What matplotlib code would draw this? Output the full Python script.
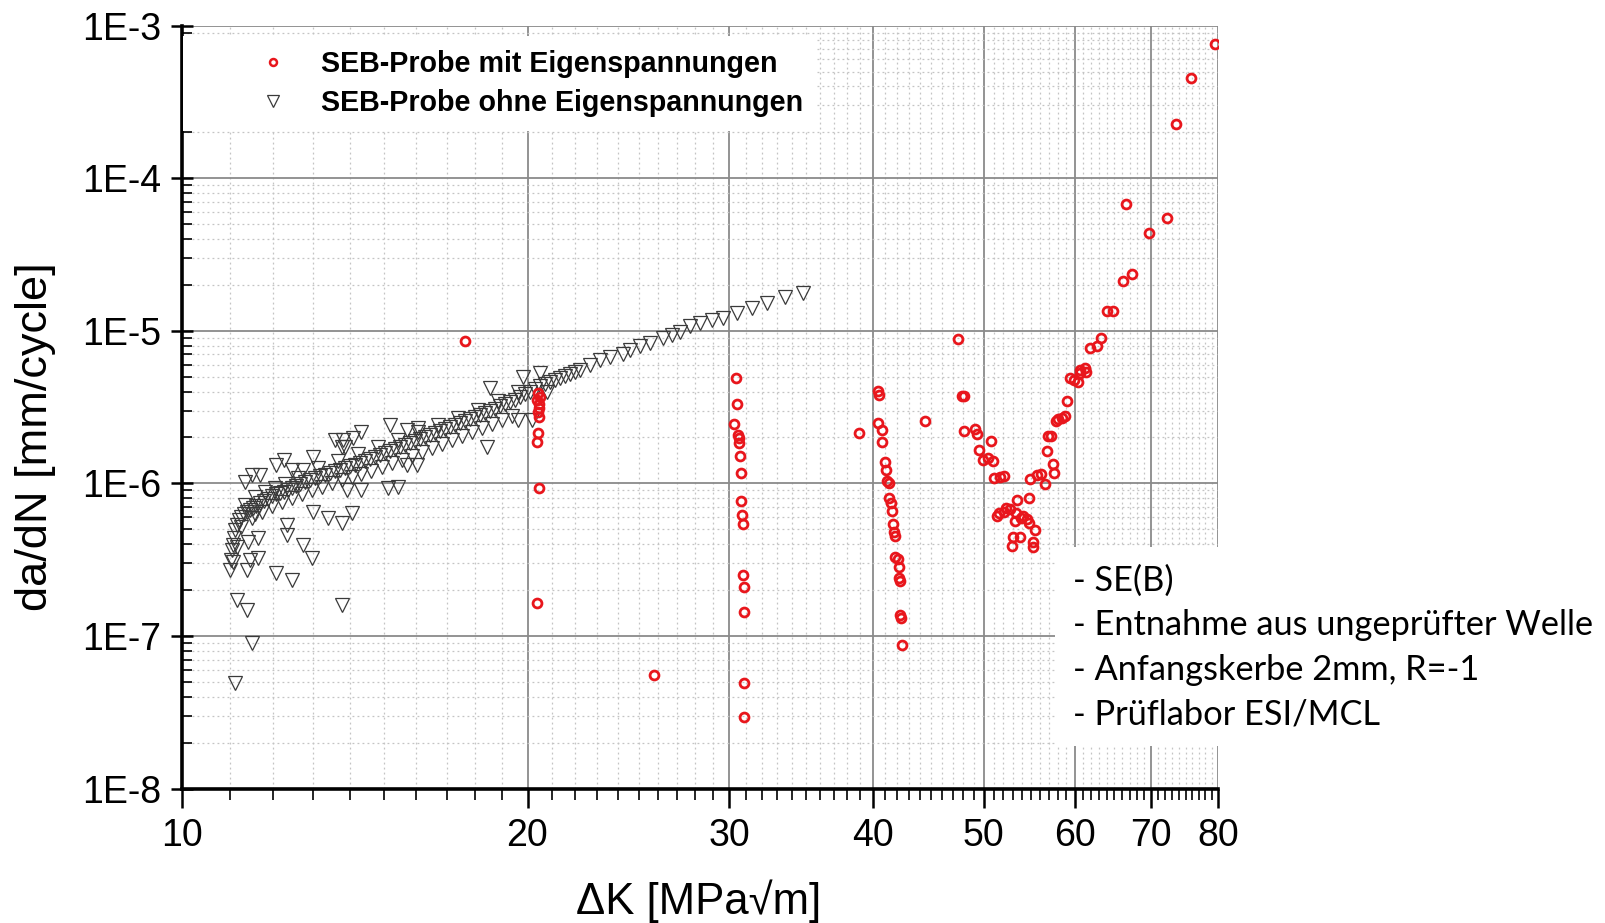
import matplotlib
matplotlib.use("Agg")
import matplotlib.pyplot as plt
from matplotlib.ticker import FixedLocator, NullFormatter, FixedFormatter
from matplotlib.patches import Rectangle
from matplotlib.lines import Line2D
from matplotlib.legend_handler import HandlerLine2D

# ---------------- data (ΔK in MPa√m, da/dN in mm/cycle) ----------------
# SEB-Probe ohne Eigenspannungen: main trend band
grey_band = [
    (11.00, 2.7e-7), (11.03, 3.15e-7), (11.05, 3.66e-7), (11.07, 3.95e-7), (11.09, 4.4e-7),
    (11.11, 4.95e-7), (11.16, 5.35e-7), (11.20, 5.76e-7), (11.25, 6.0e-7), (11.32, 6.3e-7),
    (11.39, 6.5e-7), (11.46, 6.7e-7), (11.52, 6.9e-7), (11.59, 7.1e-7), (11.69, 7.45e-7),
    (11.78, 7.7e-7), (11.88, 7.95e-7), (11.98, 8.25e-7), (12.07, 8.5e-7), (12.17, 8.6e-7),
    (12.27, 8.8e-7), (12.36, 9.06e-7), (12.46, 9.3e-7), (12.56, 9.6e-7), (12.67, 9.9e-7),
    (12.79, 1.02e-6), (12.92, 1.05e-6), (13.05, 1.08e-6), (13.19, 1.12e-6), (13.32, 1.14e-6),
    (13.45, 1.17e-6), (13.59, 1.2e-6), (13.73, 1.22e-6), (13.86, 1.26e-6), (14.00, 1.3e-6),
    (14.15, 1.32e-6), (14.29, 1.36e-6), (14.44, 1.4e-6), (14.58, 1.44e-6), (14.73, 1.49e-6),
    (14.87, 1.53e-6), (15.02, 1.58e-6), (15.17, 1.63e-6), (15.33, 1.68e-6), (15.48, 1.73e-6),
    (15.64, 1.78e-6), (15.79, 1.84e-6), (15.95, 1.9e-6), (16.12, 1.95e-6), (16.28, 2.0e-6),
    (16.44, 2.08e-6), (16.61, 2.15e-6), (16.78, 2.2e-6), (16.95, 2.28e-6), (17.12, 2.35e-6),
    (17.29, 2.42e-6), (17.47, 2.5e-6), (17.64, 2.57e-6), (17.82, 2.65e-6), (18.00, 2.73e-6),
    (18.18, 2.82e-6), (18.36, 2.9e-6), (18.55, 2.98e-6), (18.73, 3.08e-6), (18.92, 3.22e-6),
    (19.12, 3.3e-6), (19.31, 3.42e-6), (19.50, 3.52e-6), (19.70, 3.68e-6), (19.90, 3.85e-6),
    (20.10, 3.97e-6), (20.30, 4.15e-6), (20.51, 4.35e-6), (20.71, 4.5e-6), (20.92, 4.62e-6),
    (21.14, 4.76e-6), (21.35, 4.9e-6), (21.56, 5.05e-6), (21.78, 5.2e-6), (22.00, 5.37e-6),
    (22.23, 5.53e-6), (22.68, 5.97e-6), (23.14, 6.44e-6), (23.60, 6.73e-6), (24.23, 7.05e-6),
    (24.57, 7.48e-6), (25.07, 7.95e-6), (25.58, 8.32e-6), (26.26, 8.97e-6), (26.74, 9.38e-6),
    (27.17, 9.82e-6), (27.72, 1.075e-5), (28.28, 1.125e-5), (28.97, 1.178e-5), (29.62, 1.214e-5),
    (30.46, 1.307e-5), (31.40, 1.41e-5), (32.36, 1.52e-5), (33.55, 1.665e-5), (34.78, 1.77e-5),
]
grey_band_lower = [
    (11.25, 5.19e-7), (11.50, 5.93e-7), (11.74, 6.49e-7), (11.98, 7.1e-7), (12.22, 7.55e-7),
    (12.46, 8.0e-7), (12.72, 8.5e-7), (12.97, 9.06e-7), (13.24, 9.5e-7), (13.51, 1.0e-6),
    (13.78, 1.05e-6), (14.06, 1.10e-6), (14.33, 1.15e-6), (14.62, 1.21e-6), (14.93, 1.28e-6),
    (15.23, 1.36e-6), (15.55, 1.42e-6), (15.86, 1.51e-6), (16.18, 1.61e-6), (16.51, 1.71e-6),
    (16.85, 1.81e-6), (17.19, 1.92e-6), (17.54, 2.04e-6), (17.89, 2.17e-6), (18.25, 2.31e-6),
    (18.62, 2.45e-6), (19.00, 2.61e-6), (19.39, 2.77e-6),
]
grey_band_upper = [
    (11.34, 7.2e-7), (11.57, 8.1e-7), (11.81, 8.8e-7), (12.05, 9.3e-7), (12.29, 9.9e-7),
    (12.62, 1.08e-6), (13.14, 1.26e-6), (13.68, 1.40e-6), (14.23, 1.56e-6), (14.81, 1.73e-6),
    (15.42, 1.92e-6), (16.05, 2.17e-6), (16.71, 2.42e-6), (17.40, 2.69e-6), (18.11, 3.03e-6),
    (18.84, 3.47e-6), (19.62, 3.97e-6),
]
grey_scatter = [
    (11.34, 1.02e-6), (11.50, 1.13e-6), (11.69, 1.13e-6), (12.08, 1.32e-6), (12.27, 1.42e-6),
    (12.46, 1.22e-6), (12.99, 1.49e-6), (12.74, 1.22e-6), (13.81, 1.92e-6), (14.08, 1.98e-6),
    (14.33, 2.17e-6), (13.86, 1.73e-6), (13.91, 9.06e-7), (14.33, 9.06e-7), (15.17, 2.42e-6),
    (15.70, 2.24e-6), (16.05, 2.31e-6), (15.11, 9.3e-7), (15.42, 9.5e-7), (16.02, 1.32e-6),
    (15.70, 1.32e-6), (18.43, 1.73e-6), (18.55, 4.22e-6), (19.62, 2.61e-6), (20.18, 2.61e-6),
    (19.82, 4.98e-6), (20.51, 5.28e-6), (20.80, 3.97e-6), (12.99, 6.5e-7), (13.40, 5.94e-7),
    (13.78, 5.5e-7), (14.06, 6.4e-7), (12.34, 5.34e-7), (12.34, 4.6e-7), (12.74, 3.95e-7),
    (12.97, 3.25e-7), (12.08, 2.59e-7), (12.46, 2.33e-7), (11.64, 3.25e-7), (11.46, 3.15e-7),
    (11.39, 2.71e-7), (11.41, 4.13e-7), (11.64, 4.39e-7), (11.16, 1.72e-7), (11.39, 1.48e-7),
    (11.50, 9.0e-8), (11.11, 4.92e-8), (13.78, 1.6e-7), (11.16, 3.84e-7), (11.07, 3.04e-7),
    (11.57, 6.3e-7), (13.59, 1.92e-6), (13.78, 1.73e-6),
]

# SEB-Probe mit Eigenspannungen
red_points = [
    (17.65, 8.6e-6),
    (20.43, 3.91e-6), (20.51, 3.68e-6), (20.39, 3.52e-6), (20.47, 3.31e-6), (20.47, 3.12e-6),
    (20.43, 2.94e-6), (20.47, 2.72e-6), (20.43, 2.14e-6), (20.39, 1.87e-6), (20.47, 9.3e-7),
    (20.39, 1.64e-7),
    (25.77, 5.55e-8),
    (30.38, 4.93e-6), (30.48, 3.30e-6), (30.30, 2.44e-6), (30.50, 2.07e-6), (30.57, 1.98e-6),
    (30.61, 1.83e-6), (30.65, 1.52e-6), (30.70, 1.17e-6), (30.73, 7.7e-7), (30.78, 6.2e-7),
    (30.80, 5.42e-7), (30.82, 2.51e-7), (30.86, 2.10e-7), (30.88, 1.43e-7), (30.88, 4.9e-8),
    (30.88, 2.93e-8),
    (38.94, 2.15e-6), (40.46, 4.05e-6), (40.54, 3.79e-6), (40.41, 2.50e-6), (40.73, 2.24e-6),
    (40.78, 1.88e-6), (41.01, 1.38e-6), (41.09, 1.22e-6), (41.20, 1.03e-6), (41.34, 1.0e-6),
    (41.37, 7.98e-7), (41.48, 7.41e-7), (41.59, 6.62e-7), (41.69, 5.42e-7), (41.78, 4.82e-7),
    (41.87, 4.52e-7), (41.87, 3.31e-7), (42.07, 3.2e-7), (42.17, 2.85e-7), (42.20, 2.39e-7),
    (42.28, 2.30e-7), (42.26, 1.37e-7), (42.32, 1.31e-7), (42.41, 8.7e-8),
    (44.43, 2.57e-6), (47.44, 8.9e-6), (47.83, 3.76e-6), (48.02, 3.76e-6),
    (48.08, 2.21e-6), (49.12, 2.26e-6), (49.29, 2.10e-6), (49.55, 1.66e-6), (50.70, 1.89e-6),
    (49.94, 1.42e-6), (50.45, 1.46e-6), (50.88, 1.41e-6), (51.08, 1.09e-6), (51.70, 1.10e-6),
    (52.07, 1.11e-6),
    (53.48, 7.73e-7), (54.79, 8.0e-7), (52.27, 6.93e-7), (52.69, 6.77e-7), (51.31, 6.16e-7),
    (51.55, 6.4e-7), (53.35, 6.43e-7), (53.24, 5.7e-7), (54.13, 6.11e-7), (54.50, 5.82e-7),
    (54.79, 5.52e-7), (55.46, 4.95e-7), (53.05, 4.48e-7), (53.77, 4.48e-7), (52.88, 3.91e-7),
    (55.23, 4.11e-7), (55.20, 3.83e-7), (53.87, 5.93e-7), (52.07, 6.5e-7),
    (54.87, 1.07e-6), (55.61, 1.13e-6), (56.09, 1.15e-6), (56.57, 9.9e-7), (57.59, 1.17e-6),
    (57.41, 1.35e-6), (56.73, 1.64e-6), (56.92, 2.03e-6), (57.19, 2.05e-6), (57.80, 2.58e-6),
    (58.06, 2.63e-6), (58.50, 2.69e-6), (58.85, 2.77e-6), (59.05, 3.49e-6), (59.43, 4.89e-6),
    (59.91, 4.76e-6), (60.36, 4.64e-6), (60.64, 5.31e-6), (61.34, 5.39e-6),
    (79.54, 7.57e-4), (75.76, 4.52e-4), (73.51, 2.27e-4), (66.47, 6.75e-5), (72.21, 5.46e-5),
    (69.73, 4.39e-5), (66.07, 2.13e-5), (67.35, 2.34e-5), (63.98, 1.35e-5), (64.84, 1.35e-5),
    (63.26, 9.0e-6), (62.72, 7.95e-6), (61.89, 7.68e-6), (61.27, 5.68e-6), (60.64, 5.54e-6),
]

x_major = [10, 20, 30, 40, 50, 60, 70, 80]
x_major_labels = ["10", "20", "30", "40", "50", "60", "70", "80"]
y_major = [1e-8, 1e-7, 1e-6, 1e-5, 1e-4, 1e-3]
y_major_labels = ["1E-8", "1E-7", "1E-6", "1E-5", "1E-4", "1E-3"]
legend_labels = ["SEB-Probe mit Eigenspannungen", "SEB-Probe ohne Eigenspannungen"]
note_lines = ["- SE(B)", "- Entnahme aus ungeprüfter Welle",
              "- Anfangskerbe 2mm, R=-1", "- Prüflabor ESI/MCL"]

# ---------------- figure ----------------
W, H = 1606, 923
fig = plt.figure(figsize=(W / 100, H / 100), dpi=100)
fig.patch.set_facecolor("white")
ax = fig.add_axes([182.3 / W, 1 - 788.6 / H, (1217.9 - 182.3) / W, (788.6 - 25.6) / H])
ax.set_xscale("log")
ax.set_yscale("log")
ax.set_xlim(10, 80)
ax.set_ylim(1e-8, 1e-3)
ax.set_axisbelow(True)

RED = "#e8161c"
GREY = "#3a3a3a"

def unzip(pairs):
    return [p[0] for p in pairs], [p[1] for p in pairs]

gk, gv = unzip(grey_band + grey_band_lower + grey_band_upper + grey_scatter)
rk, rv = unzip(red_points)

h_grey, = ax.plot(gk, gv, linestyle="none", marker="v", markersize=9.6,
                  markerfacecolor="none", markeredgecolor=GREY, markeredgewidth=0.9, zorder=3)
h_red, = ax.plot(rk, rv, linestyle="none", marker="o", markersize=6.4,
                 markerfacecolor="none", markeredgecolor=RED, markeredgewidth=2.0, zorder=4)

# ticks
ax.xaxis.set_major_locator(FixedLocator(x_major))
ax.xaxis.set_major_formatter(FixedFormatter(x_major_labels))
ax.xaxis.set_minor_locator(FixedLocator([v for v in range(11, 80) if v % 10 != 0]))
ax.xaxis.set_minor_formatter(NullFormatter())
ax.yaxis.set_major_locator(FixedLocator(y_major))
ax.yaxis.set_major_formatter(FixedFormatter(y_major_labels))
ax.yaxis.set_minor_locator(FixedLocator([m * 10.0 ** e for e in range(-8, -3) for m in range(2, 10)]))
ax.yaxis.set_minor_formatter(NullFormatter())

ax.tick_params(axis="x", which="major", direction="out", length=14, width=1.8, pad=7,
               labelsize=27, colors="black")
ax.tick_params(axis="x", which="minor", direction="out", length=8, width=1.2)
ax.tick_params(axis="y", which="major", direction="inout", length=16, width=1.8, pad=7,
               labelsize=27)
ax.tick_params(axis="y", which="minor", direction="in", length=7, width=1.2)
for lab in ax.get_xticklabels() + ax.get_yticklabels():
    lab.set_family("Liberation Sans")

for s in ("top", "right"):
    ax.spines[s].set_visible(False)
for s in ("left", "bottom"):
    ax.spines[s].set_linewidth(2.6)
    ax.spines[s].set_color("black")

ax.grid(which="major", color="#8a8a8a", linewidth=1.3, linestyle="-")
ax.grid(which="minor", color="#c4c4c4", linewidth=0.9, linestyle=(0, (1.5, 2.5)))

# axis labels
fig.text(36 / W, 1 - 437 / H, "da/dN [mm/cycle]", rotation=90, ha="center", va="center",
         fontsize=32.5, family="Liberation Sans")
fig.text(699 / W, 1 - 901 / H, "ΔK [MPa√m]", ha="center", va="center",
         fontsize=31.5, family=["Liberation Sans", "DejaVu Sans"])

# legend
leg = ax.legend([h_red, h_grey], legend_labels, loc="upper left",
                bbox_to_anchor=(183 / W, 1 - 36 / H), bbox_transform=fig.transFigure,
                frameon=True, fancybox=False, framealpha=1.0, facecolor="white",
                edgecolor="none", borderpad=0.5, handletextpad=0.05, handlelength=4.26,
                labelspacing=0.36, borderaxespad=0,
                handler_map={Line2D: HandlerLine2D(xpad=1.05)},
                prop=dict(family="Liberation Sans", weight="bold", size=20.6))
leg.legend_handles[0].set_markersize(5.0)
leg.legend_handles[0].set_markeredgewidth(1.8)
leg.legend_handles[1].set_markersize(8.0)

# annotation box
fig.patches.append(Rectangle((1055 / W, 1 - 746 / H), (W - 1055) / W, (746 - 547) / H,
                             transform=fig.transFigure, facecolor="white",
                             edgecolor="none", zorder=5))
note_y = [581, 625, 670, 714]
note_texts = []
for txt, yy in zip(note_lines, note_y):
    note_texts.append(fig.text(1073 / W, 1 - yy / H, txt, ha="left", va="center",
                               fontsize=24, family="Lato", zorder=6))
# fit the longest line to its width in the reference (about 522 px)
fig.canvas.draw()
r = fig.canvas.get_renderer()
wmax = max(t.get_window_extent(r).width for t in note_texts)
for t in note_texts:
    t.set_fontsize(24 * 522.0 / wmax)

fig.savefig("out.png", dpi=100, facecolor="white")
